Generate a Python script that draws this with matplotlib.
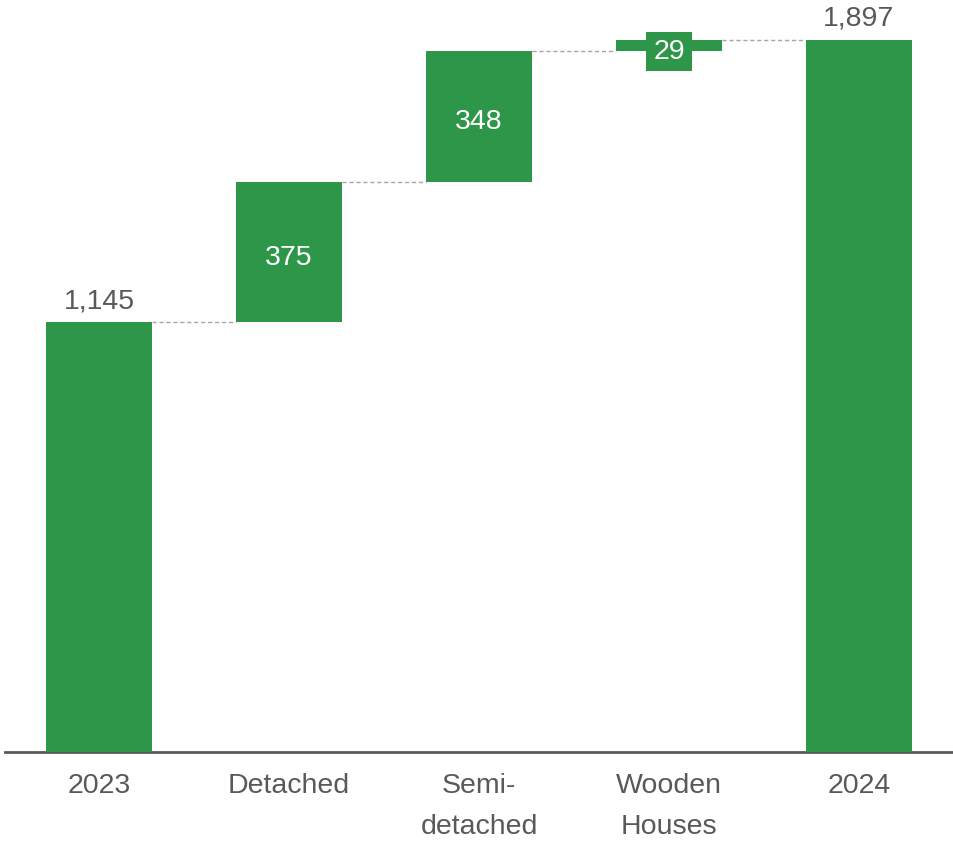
import matplotlib.pyplot as plt

plt.rcParams['font.family'] = ['Liberation Sans', 'DejaVu Sans']

categories = ['2023', 'Detached', 'Semi-\ndetached', 'Wooden\nHouses', '2024']
values = [1145, 375, 348, 29, 1897]
is_total = [True, False, False, False, True]

green = '#2e9648'
grey = '#595959'

# bottoms for the floating bars
bottoms = []
running = 0
for v, tot in zip(values, is_total):
    if tot:
        bottoms.append(0)
        running = v
    else:
        bottoms.append(running)
        running += v
tops = [b + v for b, v in zip(bottoms, values)]

fig = plt.figure(figsize=(9.54, 8.42), dpi=100)
ax = fig.add_axes([5 / 954, 90 / 842, 949 / 954, 752 / 842])

x = list(range(len(categories)))
width = 0.558
ax.bar(x, values, width=width, bottom=bottoms, color=green, zorder=3)

# dashed connectors
for i in range(len(x) - 1):
    ax.plot([x[i] + width / 2, x[i + 1] - width / 2], [tops[i], tops[i]],
            color='#a6a6a6', lw=1, ls=(0, (3, 2)), zorder=2)

# labels
fs = 20.5
for i, (v, tot) in enumerate(zip(values, is_total)):
    if tot:
        ax.text(x[i], tops[i] + 22, f'{v:,}', ha='center', va='bottom',
                fontsize=fs, color=grey)
    elif v < 100:
        ax.text(x[i], bottoms[i] + v / 2 - 8, f'{v:,}', ha='center', va='center_baseline',
                fontsize=fs, color='white', zorder=4,
                bbox=dict(boxstyle='square,pad=0.24', fc=green, ec='none'))
    else:
        ax.text(x[i], bottoms[i] + v / 2 - 8, f'{v:,}', ha='center', va='center_baseline',
                fontsize=fs, color='white', zorder=4)

ax.set_xlim(-0.4947, 4.5)
ax.set_ylim(0, 2004)
ax.set_xticks(x)
ax.set_xticklabels(categories, fontsize=fs, color=grey, linespacing=1.78, va='top')
ax.tick_params(axis='x', length=0, pad=15)
ax.set_yticks([])
for s in ['top', 'right', 'left']:
    ax.spines[s].set_visible(False)
ax.spines['bottom'].set_color(grey)
ax.spines['bottom'].set_linewidth(2)

fig.savefig('out.png', dpi=100)
